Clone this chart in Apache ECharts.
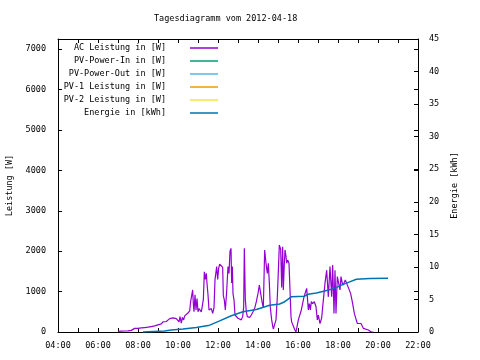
<!DOCTYPE html>
<html>
<head>
<meta charset="utf-8">
<script src="https://cdn.jsdelivr.net/npm/echarts@6/dist/echarts.min.js"></script>
<style>html,body{margin:0;padding:0;background:#fff}#c{width:480px;height:360px}</style>
</head>
<body>
<div id="c"></div>
<script>
const titleText = "Tagesdiagramm vom 2012-04-18";
const seriesNames = ["AC Leistung in [W]", "PV-Power-In in [W]", "PV-Power-Out in [W]", "PV-1 Leistung in [W]", "PV-2 Leistung in [W]", "Energie in [kWh]"];
const seriesColors = ["#9400D3", "#009E73", "#56B4E9", "#E69F00", "#F0E442", "#0072B2"];
const leftTicks = [0, 1000, 2000, 3000, 4000, 5000, 6000, 7000];
const rightTicks = [0, 5, 10, 15, 20, 25, 30, 35, 40, 45];

const acTimes = ["07:00","07:10","07:20","07:30","07:40","07:45","07:50","07:55","08:00","08:10","08:20","08:30","08:40","08:50","09:00","09:05","09:10","09:15","09:20","09:25","09:30","09:35","09:40","09:45","09:50","09:55","10:00","10:03","10:06","10:10","10:13","10:17","10:20","10:25","10:30","10:35","10:38","10:41","10:44","10:46","10:48","10:51","10:54","10:57","11:00","11:03","11:06","11:10","11:13","11:16","11:19","11:22","11:25","11:27","11:30","11:33","11:36","11:40","11:44","11:48","11:51","11:56","11:59","12:02","12:05","12:08","12:11","12:14","12:16","12:19","12:22","12:26","12:30","12:33","12:36","12:39","12:41","12:43","12:45","12:48","12:51","12:55","13:00","13:05","13:10","13:14","13:17","13:19","13:22","13:25","13:28","13:31","13:35","13:40","13:45","13:50","13:55","14:00","14:04","14:08","14:12","14:16","14:20","14:24","14:28","14:31","14:34","14:37","14:41","14:44","14:46","14:50","14:54","14:58","15:01","15:04","15:08","15:11","15:14","15:16","15:18","15:21","15:24","15:26","15:29","15:33","15:36","15:39","15:41","15:46","15:50","15:54","15:58","16:01","16:06","16:10","16:14","16:18","16:21","16:26","16:28","16:31","16:34","16:37","16:40","16:44","16:49","16:54","16:58","17:01","17:06","17:11","17:16","17:21","17:26","17:31","17:36","17:41","17:44","17:48","17:51","17:54","17:58","18:02","18:06","18:09","18:14","18:18","18:22","18:28","18:32","18:38","18:44","18:49","18:54","18:58","19:03","19:09","19:16","19:22","19:31","19:34","19:40","19:46","19:56","20:01","20:10"];
const acWatts = [15,20,25,30,40,75,90,95,90,100,110,120,135,150,175,160,200,250,290,260,300,330,310,350,360,330,350,250,380,220,360,300,400,420,470,520,760,790,1040,700,500,920,545,830,500,580,620,500,470,800,1490,1300,1450,1200,920,545,500,580,460,600,1290,1620,1300,1580,1680,1660,1700,1600,900,790,545,1000,1620,1450,2000,2070,1210,1620,950,790,420,380,340,300,300,380,620,2070,790,500,380,340,360,420,500,585,750,955,1160,955,750,600,2030,1700,1450,1700,1210,600,300,150,75,90,300,870,1500,2150,2050,1100,2110,1040,1500,2030,1870,1700,1780,1700,1040,380,250,210,60,0,40,300,320,545,545,870,870,1080,870,545,700,545,750,700,750,625,300,420,210,350,790,1210,1530,870,1620,870,1660,460,1530,460,1370,1410,1040,1370,1160,1210,1290,1250,1080,950,700,460,320,210,210,210,90,60,50,40,0,0];

const energyTimes = ["08:15","09:20","09:40","10:15","10:55","11:35","12:05","12:40","13:15","13:55","14:35","15:05","15:20","15:40","16:20","16:30","16:55","17:20","17:50","18:10","18:35","18:55","19:35","20:30"];
const energyKWh = [0,0.15,0.3,0.45,0.7,1.05,1.7,2.5,3.1,3.45,4.1,4.3,4.65,5.4,5.5,5.8,6.0,6.3,6.7,7.2,7.7,8.1,8.2,8.25];

const toH = s => +s.slice(0, 2) + (+s.slice(3)) / 60;
const acData = acTimes.map((t, i) => [toH(t), acWatts[i]]);
const energyData = energyTimes.map((t, i) => [toH(t), energyKWh[i]]);

const FONT = "DejaVu Sans Mono";
const FS = 8.5;
const pad2 = n => (n < 10 ? "0" : "") + n;
const tick = { show: true, inside: true, length: 4, lineStyle: { color: "#000", width: 1 } };
const line = { show: true, onZero: false, lineStyle: { color: "#000", width: 1 } };

const legendTops = [43, 56, 69, 82, 95, 108];
const legends = seriesNames.map((n, i) => ({
  data: [n], orient: "vertical", align: "right", right: 262, top: legendTops[i],
  padding: 0, icon: "rect", itemWidth: 28, itemHeight: 1.5, selectedMode: false,
  textStyle: { fontFamily: FONT, fontSize: FS, color: "#000", lineHeight: 10, padding: [0, 19, 0, 0] }
}));

const series = seriesNames.map((n, i) => ({
  name: n, type: "line", showSymbol: false, symbol: "none", animation: false,
  yAxisIndex: i === 5 ? 1 : 0,
  data: i === 0 ? acData : (i === 5 ? energyData : []),
  lineStyle: { color: seriesColors[i], width: i === 5 ? 1.5 : 1.2 },
  itemStyle: { color: seriesColors[i] }
}));

const chart = echarts.init(document.getElementById("c"), null, { renderer: "canvas" });
chart.setOption({
  animation: false,
  backgroundColor: "#fff",
  title: { text: titleText, left: 154, top: 14, padding: 0,
    textStyle: { fontFamily: FONT, fontSize: FS, fontWeight: "normal", color: "#000" } },
  legend: legends,
  grid: { left: 58, right: 62, top: 39, bottom: 28, containLabel: false, outerBoundsMode: "none" },
  xAxis: [
    { type: "value", position: "bottom", min: 4, max: 22, interval: 1,
      axisLine: line, axisTick: tick, splitLine: { show: false },
      axisLabel: { fontFamily: FONT, fontSize: FS, color: "#000", margin: 9,
        formatter: v => (v % 2 === 0 ? pad2(v) + ":00" : "") } },
    { type: "value", position: "top", min: 4, max: 22, interval: 1,
      axisLine: line, axisTick: tick, splitLine: { show: false }, axisLabel: { show: false } }
  ],
  yAxis: [
    { type: "value", position: "left", min: 0, max: 7250, interval: 1000,
      name: "Leistung [W]", nameLocation: "middle", nameGap: 43, nameRotate: 90,
      nameTextStyle: { fontFamily: FONT, fontSize: FS, color: "#000" },
      axisLine: line, axisTick: tick, splitLine: { show: false },
      axisLabel: { fontFamily: FONT, fontSize: FS, color: "#000", margin: 12,
        formatter: v => (leftTicks.indexOf(v) >= 0 ? String(v) : "") } },
    { type: "value", position: "right", min: 0, max: 45, interval: 5,
      name: "Energie [kWh]", nameLocation: "middle", nameGap: 30, nameRotate: 90,
      nameTextStyle: { fontFamily: FONT, fontSize: FS, color: "#000" },
      axisLine: line, axisTick: tick, splitLine: { show: false },
      axisLabel: { fontFamily: FONT, fontSize: FS, color: "#000", margin: 11,
        formatter: v => (rightTicks.indexOf(v) >= 0 ? String(v) : "") } },
    { type: "value", position: "right", min: 0, max: 7250, interval: 1000,
      axisLine: { show: false }, axisTick: tick, splitLine: { show: false }, axisLabel: { show: false } }
  ],
  series: series
});
</script>
</body>
</html>
